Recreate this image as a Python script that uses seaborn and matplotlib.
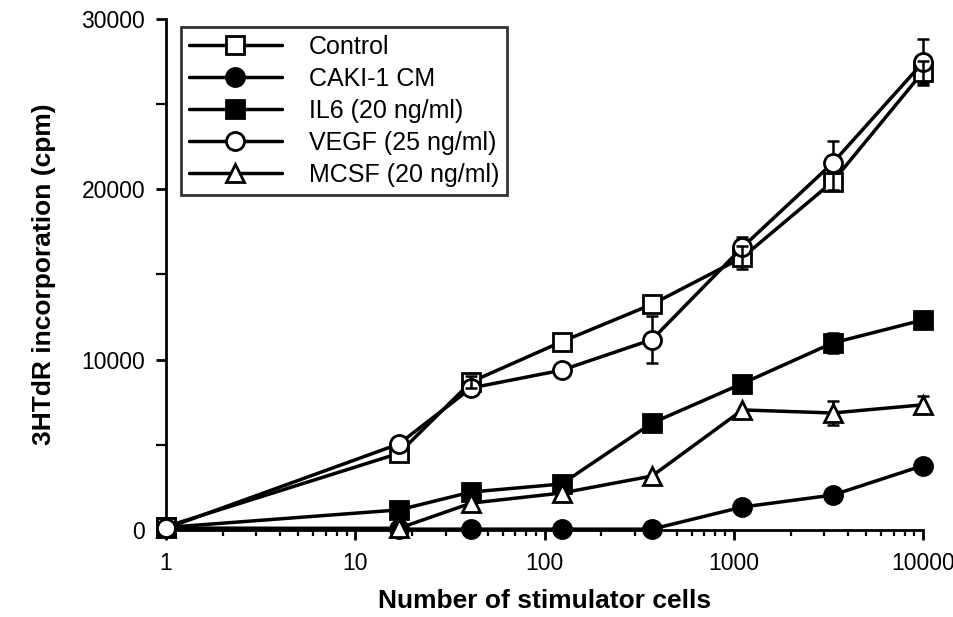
import numpy as np
import pandas as pd
import matplotlib
matplotlib.use("Agg")
import matplotlib.pyplot as plt
import seaborn as sns
from matplotlib.ticker import FixedLocator, LogLocator, NullFormatter, MultipleLocator

# ---- data ----
cells = [1, 17, 41, 123, 370, 1111, 3333, 10000]
series_names = ["Control", "CAKI-1 CM", "IL6 (20 ng/ml)", "VEGF (25 ng/ml)", "MCSF (20 ng/ml)"]
control = [200, 4500, 8700, 11050, 13250, 16000, 20450, 26900]
control_err = [0, 0, 350, 0, 0, 700, 500, 650]
caki = [100, 50, 50, 50, 50, 1350, 2050, 3780]
caki_err = [0, 0, 0, 0, 0, 0, 0, 0]
il6 = [150, 1180, 2230, 2700, 6280, 8600, 10980, 12330]
il6_err = [0, 0, 0, 0, 0, 0, 600, 0]
vegf = [100, 5050, 8340, 9380, 11180, 16600, 21550, 27450]
vegf_err = [0, 0, 400, 0, 1400, 600, 1300, 1350]
mcsf = [100, 100, 1580, 2170, 3170, 7050, 6870, 7350]
mcsf_err = [0, 0, 0, 0, 0, 0, 700, 500]
x_ticks = [1, 10, 100, 1000, 10000]
x_tick_labels = ["1", "10", "100", "1000", "10000"]
y_ticks = [0, 10000, 20000, 30000]
y_tick_labels = ["0", "10000", "20000", "30000"]

values = [control, caki, il6, vegf, mcsf]
errors = [control_err, caki_err, il6_err, vegf_err, mcsf_err]
rows = []
for name, vals, errs in zip(series_names, values, errors):
    for c, v, e in zip(cells, vals, errs):
        rows.append({"cells": c, "cpm": v, "err": e, "series": name})
df = pd.DataFrame(rows)

styles = {
    "Control": dict(marker="s", mfc="white"),
    "CAKI-1 CM": dict(marker="o", mfc="black"),
    "IL6 (20 ng/ml)": dict(marker="s", mfc="black"),
    "VEGF (25 ng/ml)": dict(marker="o", mfc="white"),
    "MCSF (20 ng/ml)": dict(marker="^", mfc="white"),
}
msize = {"s": 12.5, "o": 13, "^": 13.5}

sns.set_theme(style="ticks")
plt.rcParams["font.family"] = ["Liberation Sans", "DejaVu Sans"]
plt.rcParams["text.color"] = "black"
plt.rcParams["axes.labelcolor"] = "black"

fig = plt.figure(figsize=(9.54, 6.17), dpi=100)
ax = fig.add_axes([166 / 954, 1 - 530 / 617, 757 / 954, 511 / 617])

zorders = {"Control": 5, "CAKI-1 CM": 3, "IL6 (20 ng/ml)": 4, "VEGF (25 ng/ml)": 6, "MCSF (20 ng/ml)": 4}
for name in series_names:
    sub = df[df["series"] == name]
    st = styles[name]
    sns.lineplot(data=sub, x="cells", y="cpm", ax=ax, color="black", lw=2.5,
                 marker=st["marker"], markerfacecolor=st["mfc"], markeredgecolor="black",
                 markersize=msize[st["marker"]], markeredgewidth=2, label=name,
                 clip_on=False, zorder=zorders[name])
    m = sub["err"] > 0
    if m.any():
        ez = 7 if name == "Control" else 2
        ax.errorbar(sub["cells"][m], sub["cpm"][m], yerr=sub["err"][m], fmt="none",
                    ecolor="black", elinewidth=1.8, capsize=4.5, capthick=1.8, zorder=ez,
                    clip_on=False)

ax.set_xscale("log")
ax.set_xlim(1, 10000)
ax.set_ylim(0, 30000)
ax.xaxis.set_major_locator(FixedLocator(x_ticks))
ax.set_xticklabels(x_tick_labels)
ax.xaxis.set_minor_locator(LogLocator(base=10, subs=np.arange(2, 10)))
ax.xaxis.set_minor_formatter(NullFormatter())
ax.yaxis.set_major_locator(FixedLocator(y_ticks))
ax.set_yticklabels(y_tick_labels)
ax.yaxis.set_minor_locator(MultipleLocator(5000))

sns.despine(ax=ax)
for s in ["left", "bottom"]:
    ax.spines[s].set_linewidth(2)
    ax.spines[s].set_color("black")
ax.tick_params(axis="both", which="major", length=7, width=2, color="black",
               labelsize=16.5, labelcolor="black", direction="out")
ax.tick_params(axis="x", which="major", pad=9)
ax.tick_params(axis="y", which="major", pad=8)
ax.tick_params(axis="x", which="minor", length=4, width=1.6, color="black", direction="out")
ax.tick_params(axis="y", which="minor", length=7, width=1.6, color="black", direction="out")

ax.set_xlabel("Number of stimulator cells", fontsize=19, fontweight="bold", labelpad=10,
              color="black")
ax.set_ylabel("3HTdR incorporation (cpm)", fontsize=19, fontweight="bold", labelpad=18,
              color="black")

leg = ax.legend(loc="upper left", bbox_to_anchor=(15 / 757, 1 - 8 / 511), fontsize=18,
                frameon=True, fancybox=False, edgecolor="black", handlelength=3.7,
                handletextpad=1.1, labelspacing=0.32, borderpad=0.32, borderaxespad=0.0,
                labelcolor="black")
leg.get_frame().set_linewidth(2)

fig.savefig("out.png", dpi=100, facecolor="white")
